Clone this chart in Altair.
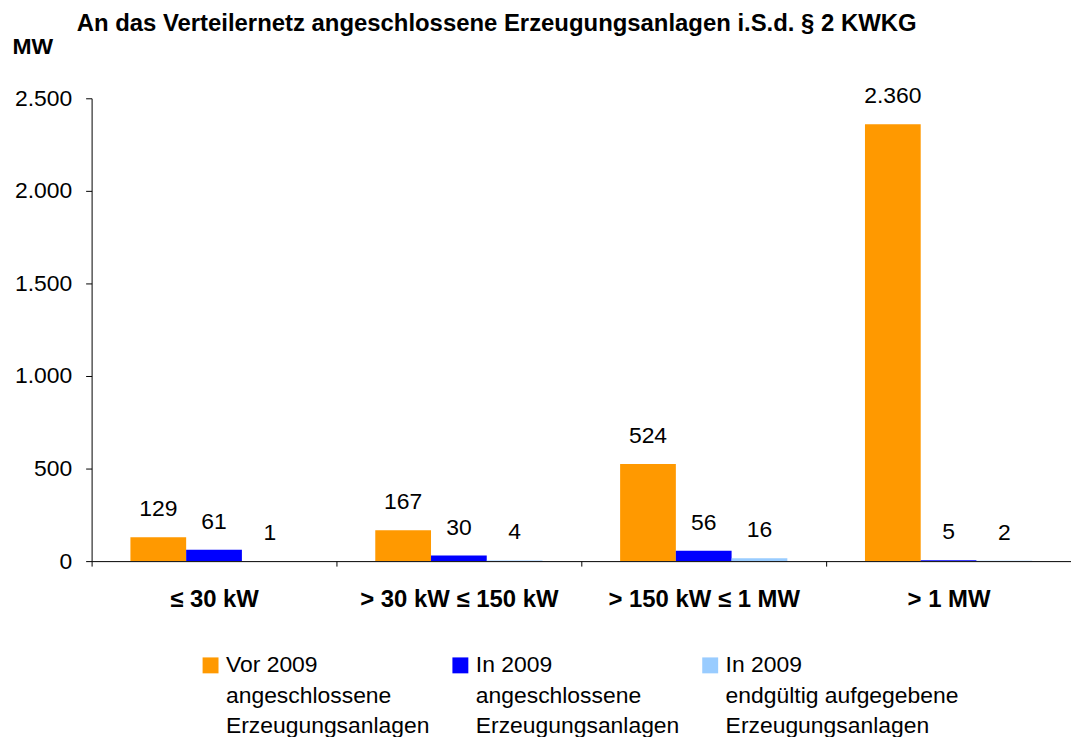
import altair as alt
import pandas as pd

categories = ["≤ 30 kW", "> 30 kW ≤ 150 kW", "> 150 kW ≤ 1 MW", "> 1 MW"]
series = [
    "Vor 2009|angeschlossene|Erzeugungsanlagen",
    "In 2009|angeschlossene|Erzeugungsanlagen",
    "In 2009|endgültig aufgegebene|Erzeugungsanlagen",
]
vor_2009 = [129, 167, 524, 2360]
in_2009 = [61, 30, 56, 5]
aufgegeben = [1, 4, 16, 2]
colors = ["#FF9900", "#0000FF", "#99CCFF"]

rows = []
for s, vals in zip(series, [vor_2009, in_2009, aufgegeben]):
    for c, v in zip(categories, vals):
        rows.append({"Kategorie": c, "Serie": s, "Wert": v})
df = pd.DataFrame(rows)

FONT = "Liberation Sans"
W = 984
STEP = W / 4
P_IN = 1 - 168 / STEP

x = alt.X(
    "Kategorie:N",
    sort=categories,
    scale=alt.Scale(paddingInner=P_IN, paddingOuter=P_IN / 2),
    axis=alt.Axis(
        title=None,
        labelAngle=0,
        labelFontSize=24,
        labelFontWeight="bold",
        labelColor="#000000",
        labelPadding=22,
        labelLimit=400,
        tickOffset=-STEP / 2,
        labelOffset=STEP / 2,
        tickSize=5,
        tickColor="#000000",
        domainColor="#000000",
        labelFont=FONT,
    ),
)
xoff = alt.XOffset("Serie:N", sort=series)
y = alt.Y(
    "Wert:Q",
    scale=alt.Scale(domain=[0, 2500], nice=False),
    axis=alt.Axis(
        title="MW",
        titleAngle=0,
        titleX=-80,
        titleY=-52,
        titleAlign="left",
        titleBaseline="middle",
        titleFontSize=23,
        titleFontWeight="bold",
        titleFont=FONT,
        titleColor="#000000",
        values=[0, 500, 1000, 1500, 2000, 2500],
        labelExpr="replace(format(datum.value, ','), ',', '.')",
        labelFontSize=23,
        labelFont=FONT,
        labelColor="#000000",
        labelPadding=14,
        tickSize=6,
        tickColor="#000000",
        domainColor="#000000",
        grid=False,
    ),
)

color = alt.Color(
    "Serie:N",
    sort=series,
    scale=alt.Scale(domain=series, range=colors),
    legend=alt.Legend(
        title=None,
        orient="none",
        legendX=108,
        legendY=558,
        direction="horizontal",
        columns=3,
        columnPadding=19,
        symbolType="square",
        symbolSize=256,
        symbolStrokeWidth=0,
        labelFontSize=23,
        labelFont=FONT,
        labelColor="#000000",
        labelOffset=4,
        labelBaseline="middle",
        labelLimit=400,
        labelExpr="split(datum.label, '|')",
    ),
)

bars = alt.Chart(df).mark_bar(size=56).encode(x=x, xOffset=xoff, y=y, color=color)

labels = (
    alt.Chart(df)
    .transform_calculate(lbl="replace(format(datum.Wert, ','), ',', '.')")
    .mark_text(fontSize=23, font=FONT, color="#000000", baseline="alphabetic", dy=-21)
    .encode(x=x, xOffset=xoff, y=y, text="lbl:N")
)

chart = (
    alt.layer(bars, labels)
    .properties(
        width=W,
        height=465,
        padding={"left": 4, "top": 2, "right": 0, "bottom": 0},
        title=alt.TitleParams(
            "An das Verteilernetz angeschlossene Erzeugungsanlagen i.S.d. § 2 KWKG",
            anchor="start",
            frame="group",
            dx=-15,
            fontSize=24,
            fontWeight="bold",
            font=FONT,
            color="#000000",
            offset=0,
        ),
    )
    .configure(style={"guide-label": {"lineHeight": 30.5}})
    .configure_view(stroke=None)
)

chart.save("out.html", embed_options={"renderer": "svg", "actions": False})
